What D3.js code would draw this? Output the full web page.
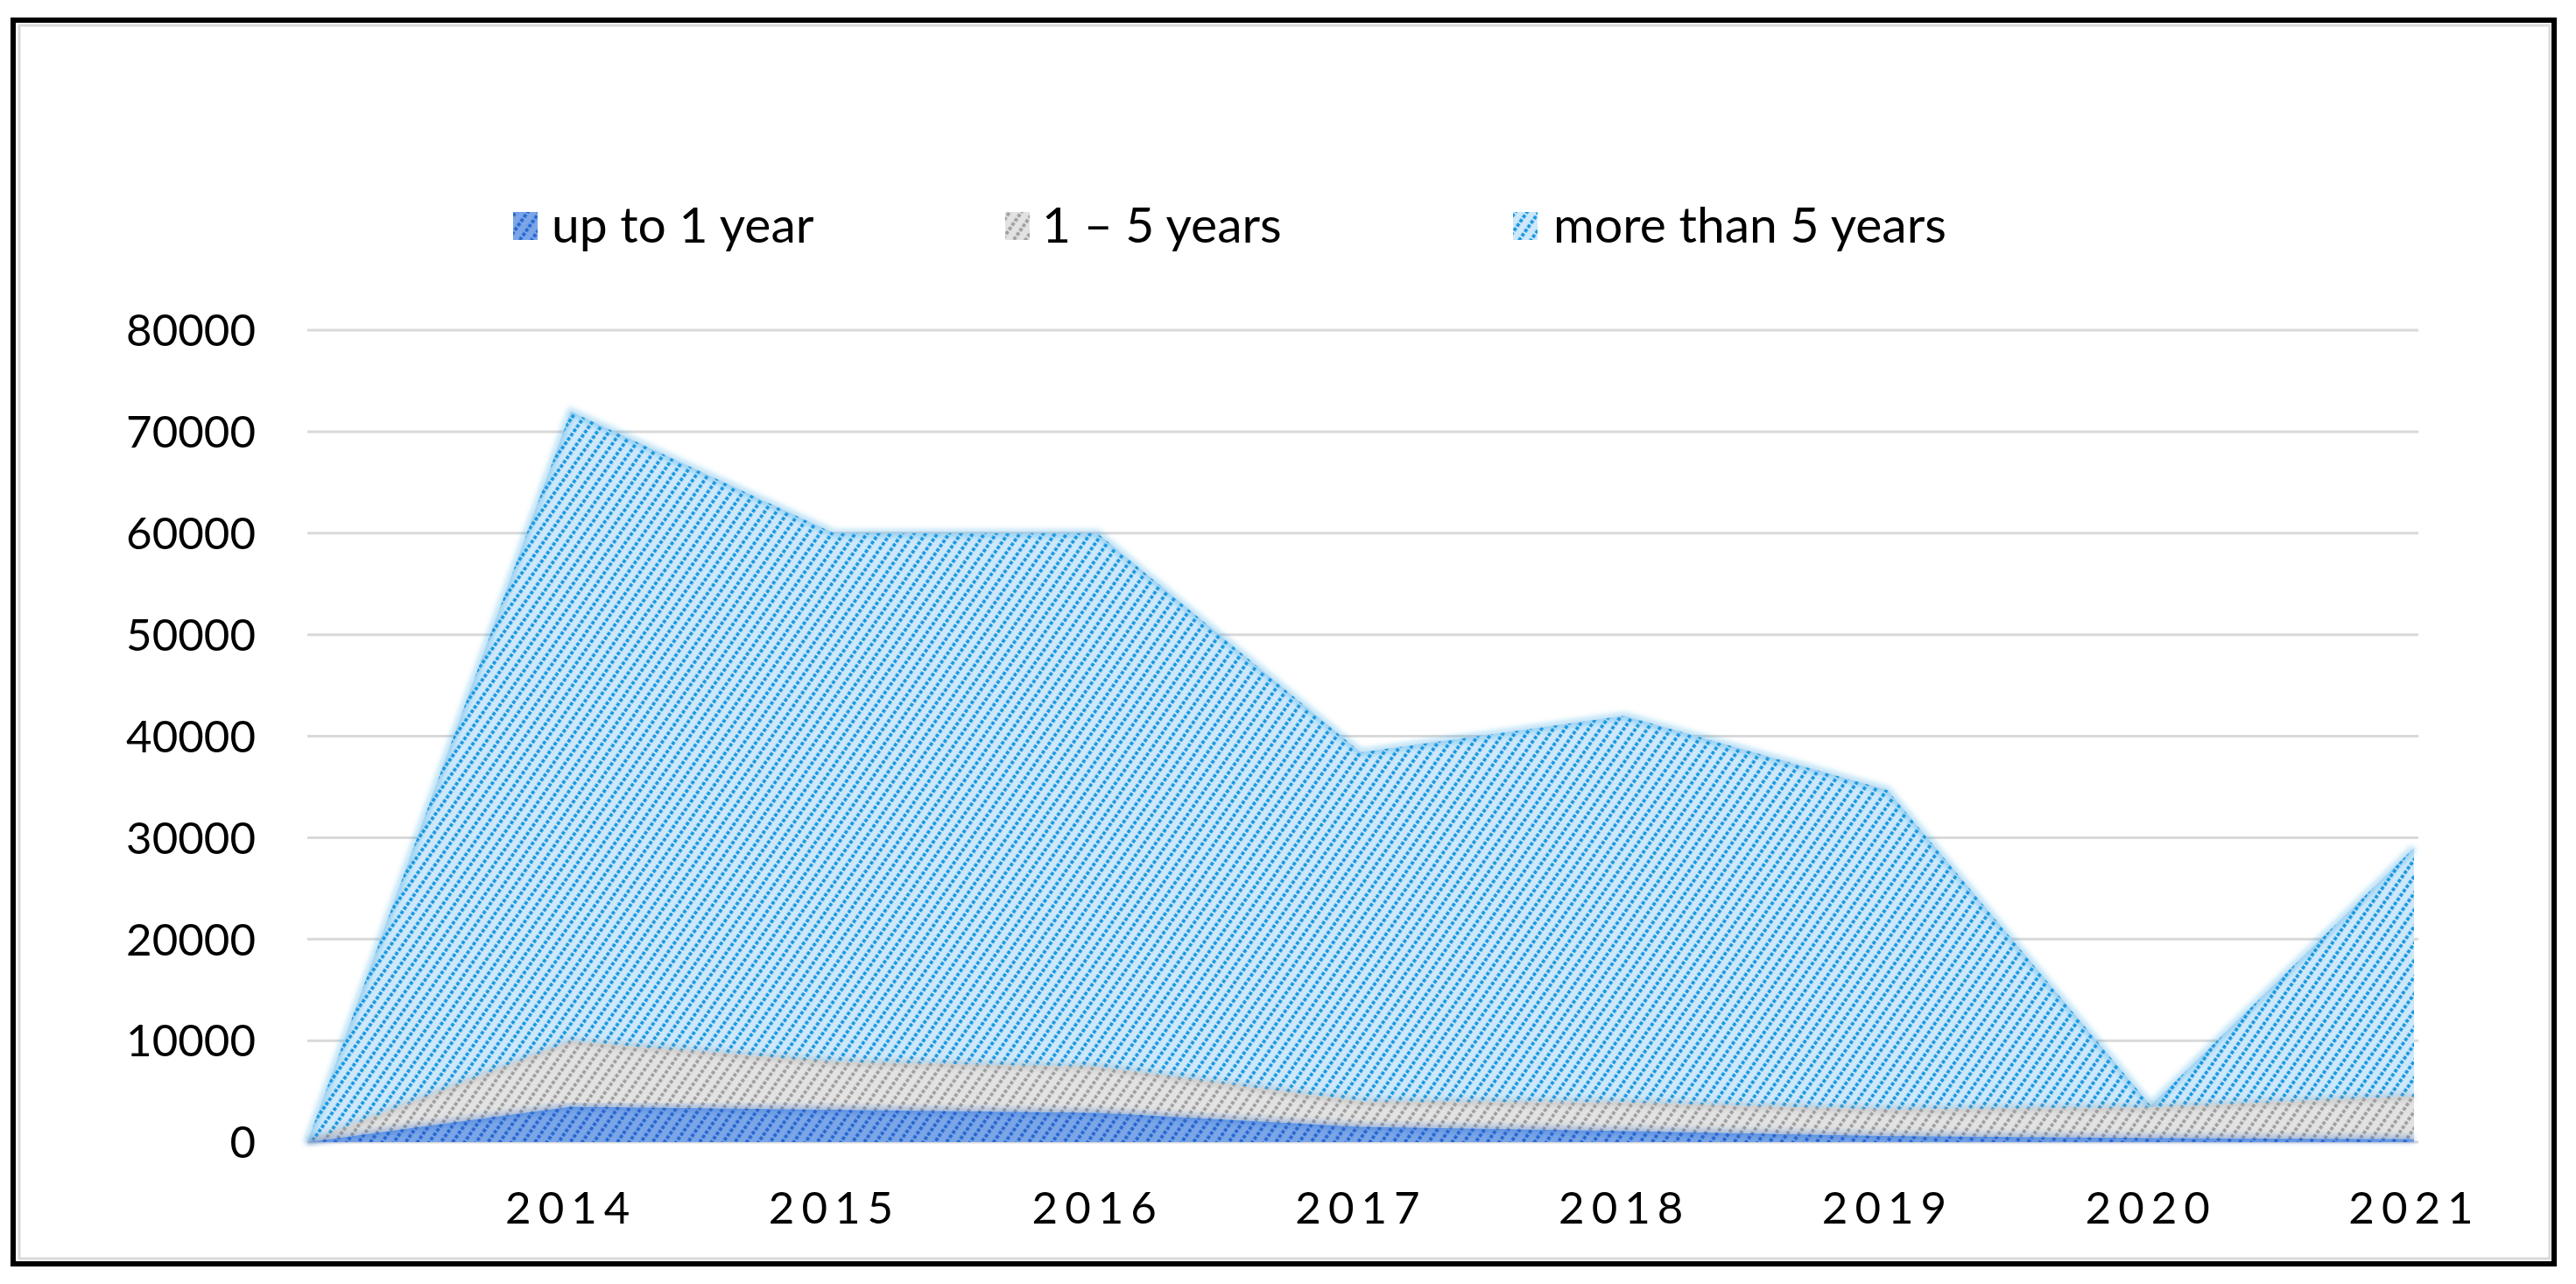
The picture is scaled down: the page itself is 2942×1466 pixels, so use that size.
<!DOCTYPE html>
<html>
<head>
<meta charset="utf-8">
<script src="https://cdn.jsdelivr.net/npm/d3@7"></script>
<style>
    body { margin: 0; background: #fff; }
    svg text { font-family: Lato, "Open Sans", sans-serif; fill: #000; }
</style>
</head>
<body>
<div id="chart"></div>
<script>
// categorieen (eerste punt is leeg, waarde 0)
const years = ["", "2014", "2015", "2016", "2017", "2018", "2019", "2020", "2021"];
const upTo1 = [0, 3500, 3200, 2900, 1500, 1100, 600, 400, 300];
const oneToFive = [0, 6400, 4700, 4500, 2500, 2800, 2600, 3000, 4200];
const moreThan5 = [0, 62100, 52100, 52600, 34400, 38100, 31500, 200, 24500];
const seriesNames = ["up to 1 year", "1 \u2013 5 years", "more than 5 years"];
const yTicks = [0, 10000, 20000, 30000, 40000, 50000, 60000, 70000, 80000];

const W = 2942, H = 1466;
const svg = d3.select("#chart").append("svg")
    .attr("width", W)
    .attr("height", H);

// hatch patronen
const hatch = [
    { id: "p0", bg: "#7aa6e8", line: "#2766cf" },
    { id: "p1", bg: "#e2e2e2", line: "#9e9e9e" },
    { id: "p2", bg: "#cde8fa", line: "#1897e0" }
];
const defs = svg.append("defs");
hatch.forEach(h => {
    const p = defs.append("pattern")
        .attr("id", h.id)
        .attr("patternUnits", "userSpaceOnUse")
        .attr("width", 11)
        .attr("height", 6)
        .attr("patternTransform", "rotate(35)");
    p.append("rect").attr("width", 11).attr("height", 6).attr("fill", h.bg);
    p.append("line")
        .attr("x1", 5.5).attr("x2", 5.5)
        .attr("y1", 0).attr("y2", 6)
        .attr("stroke", h.line)
        .attr("stroke-width", 3.8)
        .attr("stroke-dasharray", "4 2");
});
defs.append("filter").attr("id", "soft")
    .append("feGaussianBlur").attr("stdDeviation", 3);

// kader
svg.append("rect")
    .attr("x", 22).attr("y", 29)
    .attr("width", 2890).attr("height", 1408)
    .attr("fill", "none")
    .attr("stroke", "#d9d9d9")
    .attr("stroke-width", 3);
svg.append("rect")
    .attr("x", 15).attr("y", 23)
    .attr("width", 2902).attr("height", 1420)
    .attr("fill", "none")
    .attr("stroke", "#000")
    .attr("stroke-width", 6);

const x = d3.scalePoint().domain(years).range([351, 2757]);
const y = d3.scaleLinear().domain([0, 80000]).range([1304, 377]);

// rasterlijnen
svg.append("g")
    .selectAll("line")
    .data(yTicks)
    .enter()
    .append("line")
    .attr("x1", 351)
    .attr("x2", 2762)
    .attr("y1", d => y(d))
    .attr("y2", d => y(d))
    .attr("stroke", "#d9d9d9")
    .attr("stroke-width", 3);

// y-as labels
const yAxis = svg.append("g")
    .attr("transform", "translate(292,0)")
    .call(d3.axisLeft(y).tickValues(yTicks).tickSize(0).tickPadding(0).tickFormat(d3.format("d")));
yAxis.select(".domain").remove();
yAxis.selectAll("text")
    .style("font-size", "51px")
    .attr("dy", "0.35em");

// x-as labels
const xAxis = svg.append("g")
    .attr("transform", "translate(0,1379)")
    .call(d3.axisBottom(x).tickSize(0).tickPadding(0));
xAxis.select(".domain").remove();
xAxis.selectAll("text")
    .style("font-size", "51px")
    .style("letter-spacing", "8px")
    .attr("dy", "0.35em");

// gestapelde data
const rows = years.map((yr, i) => ({ year: yr, s0: upTo1[i], s1: oneToFive[i], s2: moreThan5[i] }));
const stack = d3.stack().keys(["s0", "s1", "s2"]);
const layers = stack(rows);

const area = d3.area()
    .x(d => x(d.data.year))
    .y0(d => y(d[0]))
    .y1(d => y(d[1]));

const line = d3.line()
    .x(d => x(d.data.year))
    .y(d => y(d[1]));

layers.slice().reverse().forEach(layer => {
    const h = hatch[layer.index];
    svg.append("path")
        .datum(layer)
        .attr("d", area)
        .attr("fill", `url(#${h.id})`);
    svg.append("path")
        .datum(layer)
        .attr("d", line)
        .attr("fill", "none")
        .attr("stroke", h.line)
        .attr("stroke-opacity", 0.35)
        .attr("stroke-width", 7)
        .attr("filter", "url(#soft)");
});

// legenda
const legendItems = [
    { sw: 586, tx: 630 },
    { sw: 1148, tx: 1190 },
    { sw: 1728, tx: 1774 }
];
const legend = svg.append("g");
seriesNames.forEach((name, i) => {
    legend.append("rect")
        .attr("x", legendItems[i].sw)
        .attr("y", 242)
        .attr("width", 28)
        .attr("height", 32)
        .attr("fill", `url(#${hatch[i].id})`);
    legend.append("text")
        .attr("x", legendItems[i].tx)
        .attr("y", 257)
        .attr("dy", "0.35em")
        .style("font-size", "57px")
        .text(name);
});
</script>
</body>
</html>
